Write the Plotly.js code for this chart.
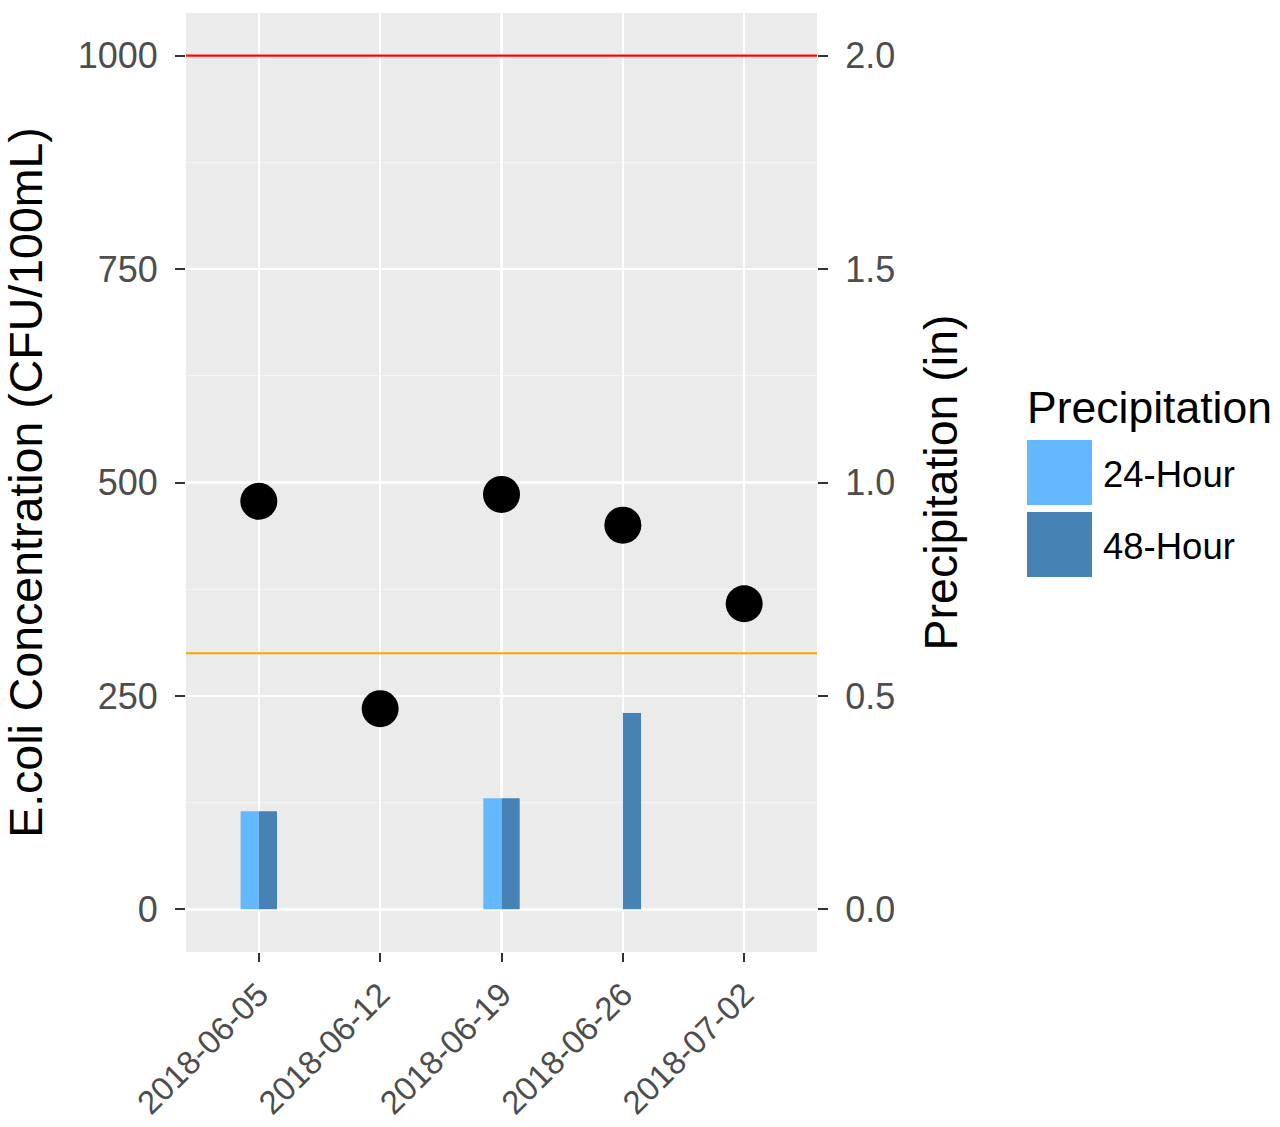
<!DOCTYPE html>
<html>
<head>
<meta charset="utf-8">
<script src="https://cdn.plot.ly/plotly-3.0.1.min.js"></script>
<style>
  html, body { margin: 0; padding: 0; background: #ffffff; }
  #chart { width: 1280px; height: 1127px; }
</style>
</head>
<body>
<div id="chart"></div>
<script>
// ---- data ----
const dates = ['2018-06-05', '2018-06-12', '2018-06-19', '2018-06-26', '2018-07-02'];
const ecoli = [478, 235, 486, 450, 358];          // CFU/100mL
const precip24 = [0.23, 0, 0.26, 0, 0];           // inches
const precip48 = [0.23, 0, 0.26, 0.46, 0];        // inches
const seriesNames = ['24-Hour', '48-Hour'];
const seriesColors = ['#63B8FF', '#4682B4'];
const thresholds = [1000, 300];
const thresholdColors = ['#FF0000', '#FFA500'];
const yTicks = [0, 250, 500, 750, 1000];
const y2Ticks = [0, 0.5, 1.0, 1.5, 2.0];
const y2TickText = ['0.0', '0.5', '1.0', '1.5', '2.0'];

const FONT = 'Liberation Sans, Arial, Helvetica, sans-serif';
const TICKCOL = '#4D4D4D';

const traces = [
  {
    type: 'scatter', mode: 'markers', x: dates, y: ecoli,
    marker: { color: '#000000', size: 37 },
    xaxis: 'x', yaxis: 'y', showlegend: false, hoverinfo: 'x+y'
  },
  {
    type: 'bar', x: dates, y: precip24, name: seriesNames[0],
    marker: { color: seriesColors[0], line: { width: 0 } },
    width: 0.15, offset: -0.15,
    xaxis: 'x', yaxis: 'y2', showlegend: false
  },
  {
    type: 'bar', x: dates, y: precip48, name: seriesNames[1],
    marker: { color: seriesColors[1], line: { width: 0 } },
    width: 0.15, offset: 0,
    xaxis: 'x', yaxis: 'y2', showlegend: false
  }
];

const shapes = thresholds.map((v, i) => ({
  type: 'line', xref: 'paper', yref: 'y', x0: 0, x1: 1, y0: v, y1: v,
  line: { color: thresholdColors[i], width: 2.2 }, layer: 'above'
}));

// manual legend (ggplot-style large keys)
const pw = 631, ph = 939, pl = 186, pb = 952;
const px = v => (v - pl) / pw;
const py = v => (pb - v) / ph;
const keyTops = [440, 512];
seriesNames.forEach((n, i) => {
  shapes.push({
    type: 'rect', xref: 'paper', yref: 'paper',
    x0: px(1027), x1: px(1092), y0: py(keyTops[i] + 65), y1: py(keyTops[i]),
    fillcolor: seriesColors[i], line: { width: 0 }
  });
});

const annotations = [
  { xref: 'paper', yref: 'paper', x: px(1025), y: py(407), xanchor: 'left', yanchor: 'middle',
    text: 'Precipitation', showarrow: false, font: { family: FONT, size: 44.5, color: '#000000' } }
];
seriesNames.forEach((n, i) => {
  annotations.push({
    xref: 'paper', yref: 'paper', x: px(1101), y: py(keyTops[i] + 34),
    xanchor: 'left', yanchor: 'middle', text: n, showarrow: false,
    font: { family: FONT, size: 36.5, color: '#000000' }
  });
});

const layout = {
  width: 1280, height: 1127,
  margin: { l: 186, r: 463, t: 13, b: 175, pad: 0 },
  paper_bgcolor: '#FFFFFF', plot_bgcolor: '#EBEBEB',
  font: { family: FONT, color: TICKCOL },
  barmode: 'overlay',
  showlegend: false,
  xaxis: {
    type: 'category', categoryorder: 'array', categoryarray: dates,
    range: [-0.6, 4.6], showgrid: true, gridcolor: '#FFFFFF', gridwidth: 2.4,
    zeroline: false, showline: false,
    ticks: 'outside', ticklen: 9, tickwidth: 2, tickcolor: '#333333',
    tickangle: -45, tickfont: { family: FONT, size: 33, color: TICKCOL },
    ticklabelstandoff: 0, fixedrange: true
  },
  yaxis: {
    range: [-50, 1050], tickvals: yTicks, ticktext: yTicks.map(String),
    showgrid: true, gridcolor: '#FFFFFF', gridwidth: 2.4,
    minor: { dtick: 125, tick0: 0, showgrid: true, gridcolor: '#F5F5F5', gridwidth: 1.3, ticks: '' },
    zeroline: false, showline: false,
    ticks: 'outside', ticklen: 10, tickwidth: 2, tickcolor: '#333333',
    tickfont: { family: FONT, size: 36, color: TICKCOL },
    ticklabelstandoff: 10,
    title: { text: 'E.coli Concentration (CFU/100mL)', font: { family: FONT, size: 46.5, color: '#000000' }, standoff: 22 },
    fixedrange: true
  },
  yaxis2: {
    overlaying: 'y', side: 'right',
    range: [-0.1, 2.1], tickvals: y2Ticks, ticktext: y2TickText,
    showgrid: false, zeroline: false, showline: false,
    ticks: 'outside', ticklen: 10, tickwidth: 2, tickcolor: '#333333',
    tickfont: { family: FONT, size: 36, color: TICKCOL },
    ticklabelstandoff: 10,
    title: { text: 'Precipitation (in)', font: { family: FONT, size: 46.5, color: '#000000' }, standoff: 30 },
    fixedrange: true
  },
  shapes: shapes,
  annotations: annotations
};

Plotly.newPlot('chart', traces, layout, { displayModeBar: false, staticPlot: true });
</script>
</body>
</html>
